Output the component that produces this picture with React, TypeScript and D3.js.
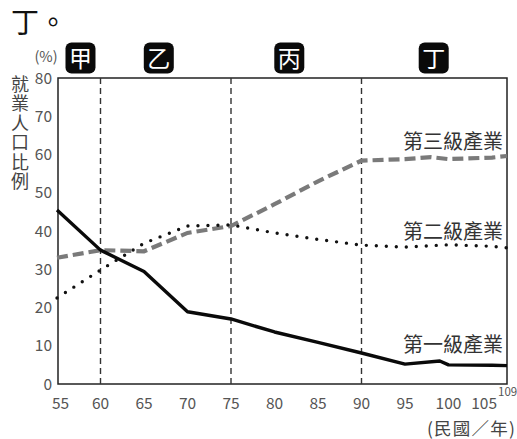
import React, { useEffect, useRef } from "react";
import * as d3 from "d3";

const primaryYears = [55, 60, 65, 70, 75, 80, 85, 90, 95, 99, 100, 105, 109];
const primaryValues = [45.5, 35, 29.4, 18.9, 17, 13.6, 10.9, 8.1, 5.2, 6.0, 5.0, 4.9, 4.8];

const secondaryYears = [55, 60, 65, 70, 75, 80, 85, 90, 95, 100, 105, 109];
const secondaryValues = [22.5, 29.8, 36.8, 41.3, 41.6, 39.5, 37.8, 36.3, 35.8, 36.4, 36.0, 35.6];

const tertiaryYears = [55, 60, 65, 70, 75, 80, 85, 90, 95, 98, 100, 105, 109];
const tertiaryValues = [33, 35, 34.7, 39.5, 41.3, 47, 53, 58.4, 58.8, 59.3, 58.8, 59.2, 59.6];

const xTicks = [55, 60, 65, 70, 75, 80, 85, 90, 95, 100, 105];
const yTicks = [0, 10, 20, 30, 40, 50, 60, 70, 80];
const dividerYears = [60, 75, 90];
const periodLabels = ["甲", "乙", "丙", "丁"];
const periodCenters = [57.7, 66.7, 81.7, 98.3];
const seriesNames = ["第一級產業", "第二級產業", "第三級產業"];
const yTitle = "就業人口比例";

const FONT = "'Noto Sans CJK TC', 'Noto Sans', sans-serif";

function App() {
  const ref = useRef<SVGSVGElement>(null);

  useEffect(() => {
    const svg = d3.select(ref.current);
    svg.selectAll("*").remove();

    const left = 58, right = 507, top = 78, bottom = 384;

    // the source axis squeezes the last few years
    const x = d3.scaleLinear().domain([55, 105, 109]).range([57, 492, 507]);
    const y = d3.scaleLinear().domain([0, 80]).range([bottom, top]);

    // heading fragment
    svg.append("text")
      .attr("x", 11).attr("y", 33)
      .attr("font-size", 28).attr("fill", "#111")
      .text("丁。");

    // period badges
    const badge = svg.append("g").selectAll("g").data(periodLabels).join("g")
      .attr("transform", (d, i) => `translate(${x(periodCenters[i])},58)`);
    badge.append("rect")
      .attr("x", -15).attr("y", -15.5).attr("width", 30).attr("height", 31)
      .attr("rx", 6).attr("fill", "#0a0a0a");
    badge.append("text")
      .attr("text-anchor", "middle").attr("y", 8.5)
      .attr("font-size", 23).attr("fill", "#fff")
      .text((d) => d);

    // frame
    svg.append("rect")
      .attr("x", left).attr("y", top)
      .attr("width", right - left).attr("height", bottom - top)
      .attr("fill", "none").attr("stroke", "#222").attr("stroke-width", 1.5);

    // period dividers
    svg.append("g").selectAll("line").data(dividerYears).join("line")
      .attr("x1", (d) => x(d)).attr("x2", (d) => x(d))
      .attr("y1", top).attr("y2", bottom)
      .attr("stroke", "#333").attr("stroke-width", 1.4)
      .attr("stroke-dasharray", "6 4");

    // y ticks
    svg.append("g").selectAll("text").data(yTicks).join("text")
      .attr("x", 52).attr("y", (d) => y(d) + 5.5)
      .attr("text-anchor", "end").attr("font-size", 15.5).attr("fill", "#555")
      .text((d) => d);

    // x ticks
    svg.append("g").selectAll("text").data(xTicks).join("text")
      .attr("x", (d, i) => x(d) + (i === 0 ? -5 : i === xTicks.length - 1 ? 5 : 0))
      .attr("y", 408.5)
      .attr("text-anchor", (d, i) => (i === 0 ? "start" : i === xTicks.length - 1 ? "end" : "middle"))
      .attr("font-size", 15.5).attr("fill", "#555")
      .text((d) => d);

    svg.append("text")
      .attr("x", 498).attr("y", 396)
      .attr("font-size", 11.5).attr("fill", "#555")
      .text("109");

    svg.append("text")
      .attr("x", 516).attr("y", 435)
      .attr("text-anchor", "end").attr("font-size", 17.5).attr("fill", "#444")
      .attr("letter-spacing", 1.2)
      .text("(民國／年)");

    // y title
    svg.append("text")
      .attr("x", 46).attr("y", 62)
      .attr("text-anchor", "middle").attr("font-size", 14.5).attr("fill", "#555")
      .text("(%)");
    svg.append("text")
      .attr("x", 20).attr("y", 75)
      .attr("writing-mode", "vertical-rl")
      .attr("font-size", 18).attr("letter-spacing", 1.5).attr("fill", "#444")
      .text(yTitle);

    const line = d3.line<[number, number]>()
      .x((d) => x(d[0]))
      .y((d) => y(d[1]));

    svg.append("path")
      .datum(tertiaryYears.map((t, i) => [t, tertiaryValues[i]] as [number, number]))
      .attr("d", line).attr("fill", "none")
      .attr("stroke", "#7a7a7a").attr("stroke-width", 4.2)
      .attr("stroke-dasharray", "11 5");

    svg.append("path")
      .datum(secondaryYears.map((t, i) => [t, secondaryValues[i]] as [number, number]))
      .attr("d", line).attr("fill", "none")
      .attr("stroke", "#111").attr("stroke-width", 3.4)
      .attr("stroke-linecap", "round")
      .attr("stroke-dasharray", "0 10");

    svg.append("path")
      .datum(primaryYears.map((t, i) => [t, primaryValues[i]] as [number, number]))
      .attr("d", line).attr("fill", "none")
      .attr("stroke", "#0a0a0a").attr("stroke-width", 3.4)
      .attr("stroke-linejoin", "round");

    // series labels
    const labelY = [352, 239, 149];
    svg.append("g").selectAll("text").data(seriesNames).join("text")
      .attr("x", 503).attr("y", (d, i) => labelY[i])
      .attr("text-anchor", "end").attr("font-size", 20).attr("fill", "#333")
      .text((d) => d);
  }, []);

  return (
    <svg
      ref={ref}
      width={517}
      height={439}
      style={{ position: "absolute", left: 0, top: 0, fontFamily: FONT, background: "#fff" }}
    />
  );
}

export default App;
